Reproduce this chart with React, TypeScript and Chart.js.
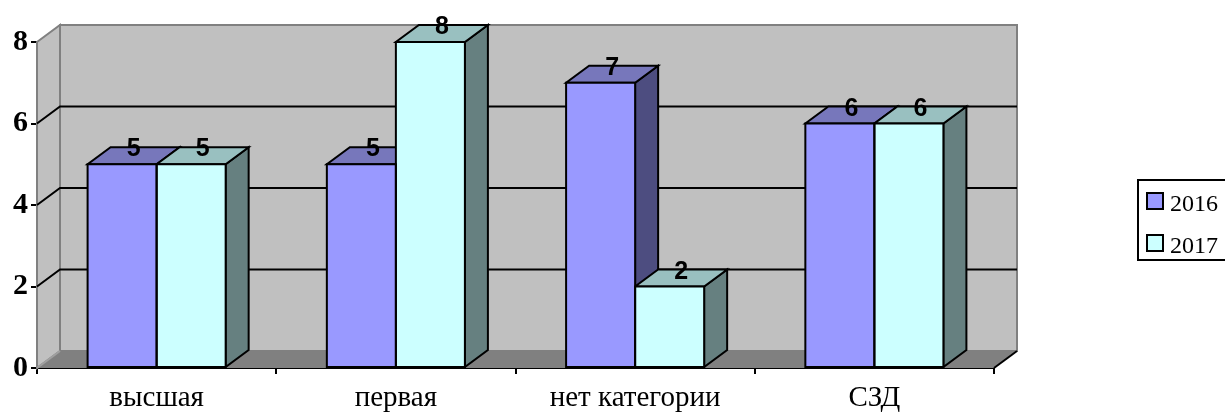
import React, { useEffect, useRef } from 'react';
import { Chart, registerables } from 'chart.js';

Chart.register(...registerables);

const categories = ['высшая', 'первая', 'нет категории', 'СЗД'];
const seriesLabels = ['2016', '2017'];
const values2016 = [5, 5, 7, 6];
const values2017 = [5, 8, 2, 6];
const yTicks = [0, 2, 4, 6, 8];

const FRONT = ['#9999FF', '#CCFFFF'];
const TOP = ['#7777BB', '#99C0C0'];
const SIDE = ['#4D4D80', '#668080'];
const DX = 23;
const DY = -17;

type Pt = [number, number];

function poly(ctx: CanvasRenderingContext2D, pts: Pt[], fill: string | null, stroke: string | null, lw = 2) {
  ctx.beginPath();
  ctx.moveTo(pts[0][0], pts[0][1]);
  for (let i = 1; i < pts.length; i++) ctx.lineTo(pts[i][0], pts[i][1]);
  ctx.closePath();
  if (fill) {
    ctx.fillStyle = fill;
    ctx.fill();
  }
  if (stroke) {
    ctx.strokeStyle = stroke;
    ctx.lineWidth = lw;
    ctx.stroke();
  }
}

function seg(ctx: CanvasRenderingContext2D, pts: Pt[], color: string, lw = 2) {
  ctx.beginPath();
  ctx.moveTo(pts[0][0], pts[0][1]);
  for (let i = 1; i < pts.length; i++) ctx.lineTo(pts[i][0], pts[i][1]);
  ctx.strokeStyle = color;
  ctx.lineWidth = lw;
  ctx.stroke();
}

const threeD = {
  id: 'threeD',
  beforeDatasetsDraw(chart: any) {
    const { ctx, chartArea } = chart;
    const { left, right } = chartArea;
    const y = chart.scales.y;
    const y0 = y.getPixelForValue(0);
    const yTop = y.getPixelForValue(y.max);
    ctx.save();
    ctx.lineJoin = 'miter';
    poly(ctx, [[left, yTop], [left + DX, yTop + DY], [left + DX, y0 + DY], [left, y0]], '#C0C0C0', '#808080', 2);
    poly(ctx, [[left + DX, yTop + DY], [right + DX, yTop + DY], [right + DX, y0 + DY], [left + DX, y0 + DY]], '#C0C0C0', '#808080', 2);
    poly(ctx, [[left, y0], [right, y0], [right + DX, y0 + DY], [left + DX, y0 + DY]], '#808080', null);
    seg(ctx, [[left, y0], [left + DX, y0 + DY]], '#A0A0A0', 2);
    seg(ctx, [[right, y0], [right + DX, y0 + DY]], '#000', 2);
    yTicks.filter((v) => v > 0 && v < y.max).forEach((v) => {
      const p = y.getPixelForValue(v);
      seg(ctx, [[left, p], [left + DX, p + DY], [right + DX, p + DY]], '#000', 2);
    });
    chart.data.datasets.forEach((_ds: any, di: number) => {
      const meta = chart.getDatasetMeta(di);
      meta.data.forEach((bar: any) => {
        const { x, y: yt, base, width } = bar.getProps(['x', 'y', 'base', 'width'], true);
        const L = x - width / 2;
        const R = x + width / 2;
        poly(ctx, [[R, yt], [R + DX, yt + DY], [R + DX, base + DY], [R, base]], SIDE[di], '#000', 2);
        poly(ctx, [[L, yt], [R, yt], [R + DX, yt + DY], [L + DX, yt + DY]], TOP[di], '#000', 2);
      });
    });
    ctx.restore();
  },
  afterDatasetsDraw(chart: any) {
    const { ctx } = chart;
    ctx.save();
    chart.data.datasets.forEach((ds: any, di: number) => {
      const meta = chart.getDatasetMeta(di);
      meta.data.forEach((bar: any) => {
        const { x, y: yt, base, width } = bar.getProps(['x', 'y', 'base', 'width'], true);
        ctx.strokeStyle = '#000';
        ctx.lineWidth = 2;
        ctx.strokeRect(x - width / 2, yt, width, base - yt);
      });
    });
    chart.data.datasets.forEach((ds: any, di: number) => {
      const meta = chart.getDatasetMeta(di);
      meta.data.forEach((bar: any, i: number) => {
        const { x, y: yt } = bar.getProps(['x', 'y'], true);
        ctx.fillStyle = '#000';
        ctx.font = 'bold 25px "Liberation Sans Narrow", "Liberation Sans", Arial, sans-serif';
        ctx.textAlign = 'center';
        ctx.textBaseline = 'alphabetic';
        ctx.fillText(String(ds.data[i]), x + DX / 2, yt - 8);
      });
    });
    ctx.restore();
  },
  afterDraw(chart: any) {
    const { ctx } = chart;
    ctx.save();
    const bx = 1138;
    const by = 180;
    ctx.fillStyle = '#fff';
    ctx.fillRect(bx, by, 100, 80);
    ctx.strokeStyle = '#000';
    ctx.lineWidth = 2;
    ctx.strokeRect(bx, by, 100, 80);
    chart.data.datasets.forEach((ds: any, di: number) => {
      const sy = 193 + di * 42;
      ctx.fillStyle = FRONT[di];
      ctx.fillRect(1147, sy, 16, 16);
      ctx.strokeStyle = '#000';
      ctx.lineWidth = 2;
      ctx.strokeRect(1147, sy, 16, 16);
      ctx.fillStyle = '#000';
      ctx.font = '24px "Liberation Serif", "Times New Roman", serif';
      ctx.textAlign = 'left';
      ctx.textBaseline = 'alphabetic';
      ctx.fillText(ds.label, 1170, sy + 18);
    });
    ctx.restore();
  },
};

export default function App() {
  const ref = useRef<HTMLCanvasElement>(null);
  useEffect(() => {
    const chart = new Chart(ref.current as HTMLCanvasElement, {
      type: 'bar',
      data: {
        labels: categories,
        datasets: [
          { label: seriesLabels[0], data: values2016, backgroundColor: FRONT[0], borderWidth: 0 },
          { label: seriesLabels[1], data: values2017, backgroundColor: FRONT[1], borderWidth: 0 },
        ],
      },
      options: {
        responsive: false,
        animation: false,
        devicePixelRatio: 1,
        layout: { padding: { left: 0, top: 42, right: 231, bottom: 0 } },
        datasets: { bar: { categoryPercentage: 0.577, barPercentage: 1 } },
        plugins: { legend: { display: false }, tooltip: { enabled: false } },
        scales: {
          x: {
            offset: true,
            grid: { offset: true, drawOnChartArea: false, color: '#000', lineWidth: 2, tickLength: 6 },
            border: { color: '#000', width: 2 },
            ticks: { color: '#000', padding: 7, font: { family: '"Liberation Serif", "Times New Roman", serif', size: 29 } },
            afterFit: (s: any) => { s.height = 46; },
          },
          y: {
            min: 0,
            max: 8,
            ticks: { stepSize: 2, color: '#000', padding: 3, font: { family: '"Liberation Serif", "Times New Roman", serif', size: 30, weight: 'bold' } },
            grid: { drawOnChartArea: false, color: '#000', lineWidth: 2, tickLength: 6 },
            border: { color: '#000', width: 2 },
            afterFit: (s: any) => { s.width = 37; },
          },
        },
      } as any,
      plugins: [threeD],
    });
    return () => chart.destroy();
  }, []);
  return (
    <div style={{ position: 'absolute', left: 0, top: 0, width: 1225, height: 414, background: '#fff' }}>
      <canvas ref={ref} width={1225} height={414} style={{ display: 'block' }} />
    </div>
  );
}
